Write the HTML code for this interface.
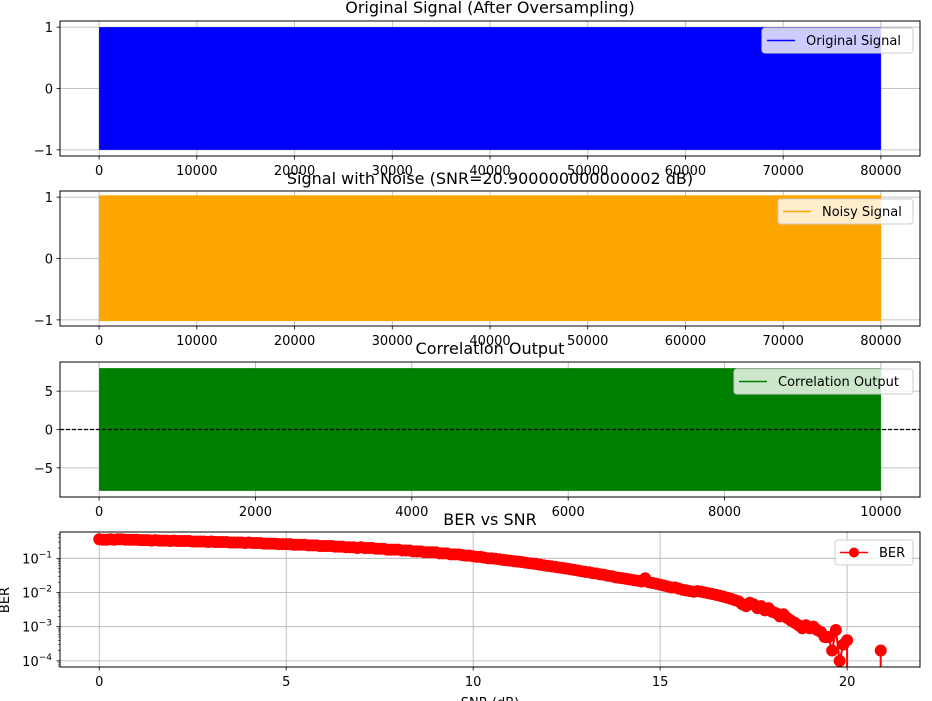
<!DOCTYPE html>
<html><head><meta charset="utf-8"><style>
body{margin:0;background:#fff;}
svg{display:block;font-family:"DejaVu Sans","Liberation Sans",sans-serif;}
</style></head><body>
<svg id="fig" width="932" height="701" viewBox="0 0 932 701"></svg>
<script>
// ---- data ----
const sigXMax = 80000;
const origAmp = [-1, 1];
const noisyAmp = [-1.02, 1.03];
const corrXMax = 10000;
const corrAmp = [-8, 8];
const sigXTicks = [0,10000,20000,30000,40000,50000,60000,70000,80000];
const corrXTicks = [0,2000,4000,6000,8000,10000];
const snrTicks = [0,5,10,15,20];
const berSnr = [
0,0.1,0.2,0.3,0.4,0.5,0.6,0.7,0.8,0.9,
1,1.1,1.2,1.3,1.4,1.5,1.6,1.7,1.8,1.9,
2,2.1,2.2,2.3,2.4,2.5,2.6,2.7,2.8,2.9,
3,3.1,3.2,3.3,3.4,3.5,3.6,3.7,3.8,3.9,
4,4.1,4.2,4.3,4.4,4.5,4.6,4.7,4.8,4.9,
5,5.1,5.2,5.3,5.4,5.5,5.6,5.7,5.8,5.9,
6,6.1,6.2,6.3,6.4,6.5,6.6,6.7,6.8,6.9,
7,7.1,7.2,7.3,7.4,7.5,7.6,7.7,7.8,7.9,
8,8.1,8.2,8.3,8.4,8.5,8.6,8.7,8.8,8.9,
9,9.1,9.2,9.3,9.4,9.5,9.6,9.7,9.8,9.9,
10,10.1,10.2,10.3,10.4,10.5,10.6,10.7,10.8,10.9,
11,11.1,11.2,11.3,11.4,11.5,11.6,11.7,11.8,11.9,
12,12.1,12.2,12.3,12.4,12.5,12.6,12.7,12.8,12.9,
13,13.1,13.2,13.3,13.4,13.5,13.6,13.7,13.8,13.9,
14,14.1,14.2,14.3,14.4,14.5,14.6,14.7,14.8,14.9,
15,15.1,15.2,15.3,15.4,15.5,15.6,15.7,15.8,15.9,
16,16.1,16.2,16.3,16.4,16.5,16.6,16.7,16.8,16.9,
17,17.1,17.2,17.3,17.4,17.5,17.6,17.7,17.8,17.9,
18,18.1,18.2,18.3,18.4,18.5,18.6,18.7,18.8,18.9,
19,19.1,19.2,19.3,19.4,19.5,19.6,19.7,19.8,19.9,
20,20.1,20.2,20.3,20.4,20.5,20.6,20.7,20.8,20.9];
const berVal = [
0.36,0.35,0.35,0.36,0.35,0.36,0.36,0.35,0.35,0.35,
0.35,0.34,0.34,0.34,0.33,0.34,0.33,0.33,0.33,0.32,
0.33,0.32,0.32,0.32,0.32,0.31,0.31,0.31,0.31,0.30,
0.31,0.30,0.30,0.30,0.30,0.29,0.29,0.29,0.29,0.28,
0.29,0.28,0.28,0.28,0.27,0.27,0.27,0.27,0.26,0.26,
0.26,0.26,0.25,0.25,0.25,0.25,0.24,0.24,0.24,0.23,
0.23,0.23,0.23,0.22,0.22,0.22,0.21,0.21,0.21,0.20,
0.21,0.20,0.20,0.20,0.19,0.19,0.19,0.18,0.18,0.18,
0.18,0.17,0.17,0.17,0.16,0.16,0.16,0.15,0.15,0.15,
0.15,0.14,0.14,0.14,0.13,0.13,0.13,0.125,0.12,0.12,
0.115,0.11,0.11,0.105,0.1,0.1,0.097,0.094,0.09,0.088,
0.085,0.082,0.08,0.078,0.075,0.072,0.07,0.068,0.065,0.062,
0.06,0.058,0.056,0.054,0.052,0.05,0.048,0.046,0.044,0.042,
0.04,0.039,0.037,0.036,0.034,0.033,0.031,0.03,0.028,0.027,
0.026,0.025,0.024,0.023,0.022,0.021,0.026,0.02,0.019,0.018,
0.017,0.016,0.015,0.014,0.014,0.013,0.012,0.0115,0.011,0.0105,
0.011,0.0105,0.01,0.0095,0.009,0.0085,0.008,0.0075,0.007,0.0065,
0.006,0.0055,0.0045,0.004,0.005,0.0045,0.0035,0.004,0.003,0.0035,
0.0027,0.0025,0.002,0.0023,0.0018,0.0015,0.0013,0.0011,0.0009,0.0011,
0.0009,0.001,0.0008,0.0007,0.0005,0.0005,0.0002,0.0008,0.0001,0.0003,
0.0004,0,0,0,0,0,0,0,0,0.0002];

const svg = document.getElementById('fig');
const NS = 'http://www.w3.org/2000/svg';
function mk(tag, attrs, parent){const e=document.createElementNS(NS,tag);for(const k in attrs)e.setAttribute(k,attrs[k]);(parent||svg).appendChild(e);return e;}
function txt(s, attrs, parent){const e=mk('text',attrs,parent);e.textContent=s;return e;}

const L=60,R=920;
function panel(top,bot,xMin,xMax,yMin,yMax,log){
  const sx=v=>L+(v-xMin)/(xMax-xMin)*(R-L);
  const sy=log?(v=>bot-(Math.log10(v)-yMin)/(yMax-yMin)*(bot-top)):(v=>bot-(v-yMin)/(yMax-yMin)*(bot-top));
  return {sx,sy,top,bot};
}
function frame(p,name){
  const r=mk('rect',{x:L,y:p.top,width:R-L,height:p.bot-p.top,fill:'none',stroke:'#000','stroke-width':1});
  
  
}
function xticks(p,ticks,name){
  const g=mk('g',{});
  
  
  ticks.forEach(t=>{const x=p.sx(t);
    mk('line',{x1:x,x2:x,y1:p.top,y2:p.bot,stroke:'#b0b0b0','stroke-width':0.8},g);
    mk('line',{x1:x,x2:x,y1:p.bot,y2:p.bot+3.5,stroke:'#000','stroke-width':0.8},g);
    txt(String(t),{x:x,y:p.bot+19,'text-anchor':'middle','font-size':13,fill:'#000'},g);});
}
function yticks(p,ticks,labels,name){
  const g=mk('g',{});
  
  
  ticks.forEach((t,i)=>{const y=p.sy(t);
    mk('line',{x1:L,x2:R,y1:y,y2:y,stroke:'#b0b0b0','stroke-width':0.8},g);
    mk('line',{x1:L-3.5,x2:L,y1:y,y2:y,stroke:'#000','stroke-width':0.8},g);
    if(labels[i])txt(labels[i],{x:L-7,y:y+5,'text-anchor':'end','font-size':13,fill:'#000'},g);});
}
function title(s,y,name){const t=txt(s,{x:490,y:y,'text-anchor':'middle','font-size':16,fill:'#000'});
  
  }
function legend(x,y,w,label,color,marker,name){
  const g=mk('g',{});
  
  
  mk('rect',{x:x,y:y,width:w,height:25,rx:3,fill:'#fff','fill-opacity':0.8,stroke:'#ccc'},g);
  mk('line',{x1:x+5,x2:x+33,y1:y+12.5,y2:y+12.5,stroke:color,'stroke-width':1.5},g);
  if(marker)mk('circle',{cx:x+19,cy:y+12.5,r:5,fill:color},g);
  txt(label,{x:x+44,y:y+17,'font-size':13,fill:'#000'},g);
}

// Panel 1
const p1=panel(21,156,-4000,84000,-1.1,1.1);
xticks(p1,sigXTicks,'original');
yticks(p1,[-1,0,1],['\u22121','0','1'],'original');
const r1=mk('rect',{x:p1.sx(0),y:p1.sy(origAmp[1]),width:p1.sx(sigXMax)-p1.sx(0),height:p1.sy(origAmp[0])-p1.sy(origAmp[1]),fill:'#0000ff'});


frame(p1,'original');
legend(762,28,151,'Original Signal','#0000ff',false,'original-legend');
title('Original Signal (After Oversampling)',13,'original-title');

// Panel 2
const p2=panel(191,326,-4000,84000,-1.1,1.1);
xticks(p2,sigXTicks,'noisy');
yticks(p2,[-1,0,1],['\u22121','0','1'],'noisy');
const r2=mk('rect',{x:p2.sx(0),y:p2.sy(noisyAmp[1]),width:p2.sx(sigXMax)-p2.sx(0),height:p2.sy(noisyAmp[0])-p2.sy(noisyAmp[1]),fill:'#ffa500'});


frame(p2,'noisy');
legend(778,199,135,'Noisy Signal','#ffa500',false,'noisy-legend');
title('Signal with Noise (SNR=20.900000000000002 dB)',184,'noisy-title');

// Panel 3
const p3=panel(362,497,-500,10500,-8.8,8.8);
xticks(p3,corrXTicks,'correlation');
yticks(p3,[-5,0,5],['\u22125','0','5'],'correlation');
const r3=mk('rect',{x:p3.sx(0),y:p3.sy(corrAmp[1]),width:p3.sx(corrXMax)-p3.sx(0),height:p3.sy(corrAmp[0])-p3.sy(corrAmp[1]),fill:'#008000'});


const zl=mk('line',{x1:L,x2:R,y1:p3.sy(0),y2:p3.sy(0),stroke:'#000','stroke-width':1.2,'stroke-dasharray':'4,2'});


frame(p3,'correlation');
legend(734,369,179,'Correlation Output','#008000',false,'correlation-legend');
title('Correlation Output',354,'correlation-title');

// Panel 4
const p4=panel(532,667,-1.05,21.95,-4.18,-0.23,true);
xticks(p4,snrTicks,'ber');
for(let e=-5;e<0;e++){for(let m=2;m<10;m++){const v=m*Math.pow(10,e);const lv=Math.log10(v);if(lv<-4.18||lv>-0.23)continue;
  mk('line',{x1:L-2,x2:L,y1:p4.sy(v),y2:p4.sy(v),stroke:'#000','stroke-width':0.6});}}
yticks(p4,[0.1,0.01,0.001,0.0001],['','','',''],'ber');
[-1,-2,-3,-4].forEach(e=>{const y=p4.sy(Math.pow(10,e));
  const t=mk('text',{x:L-8,y:y+5,'text-anchor':'end','font-size':13,fill:'#000'});
  
  
  t.appendChild(document.createTextNode('10'));
  const s=mk('tspan',{dy:-6,'font-size':9},t);s.textContent='\u2212'+Math.abs(e);
});
let d='';let prevValid=false;
berSnr.forEach((s,i)=>{const v=berVal[i];const x=p4.sx(s).toFixed(1);
  if(v>0){const y=p4.sy(v).toFixed(1);
    if(i===0)d+='M'+x+','+y;
    else if(prevValid)d+='L'+x+','+y;
    else d+='M'+x+','+(p4.bot+5)+'L'+x+','+y;
    prevValid=true;}
  else{ if(prevValid){const px=p4.sx(berSnr[i-1]).toFixed(1);d+='L'+px+','+(p4.bot+5);} prevValid=false; }
});
const clip=mk('clipPath',{id:'c4'});mk('rect',{x:L,y:p4.top,width:R-L,height:p4.bot-p4.top},clip);
const line=mk('path',{d:d,fill:'none',stroke:'#ff0000','stroke-width':2,'clip-path':'url(#c4)'});


berSnr.forEach((s,i)=>{const v=berVal[i];if(v<=0)return;
  const c=mk('circle',{cx:p4.sx(s),cy:p4.sy(v),r:6,fill:'#ff0000'});
  
  });
frame(p4,'ber');
legend(835,540,78,'BER','#ff0000',true,'ber-legend');
title('BER vs SNR',525,'ber-title');
const yl=txt('BER',{x:0,y:0,'text-anchor':'middle','font-size':13,fill:'#000',transform:'translate(9,600) rotate(-90)'});


const xl=txt('SNR (dB)',{x:490,y:707,'text-anchor':'middle','font-size':13,fill:'#000'});


</script>
</body></html>
